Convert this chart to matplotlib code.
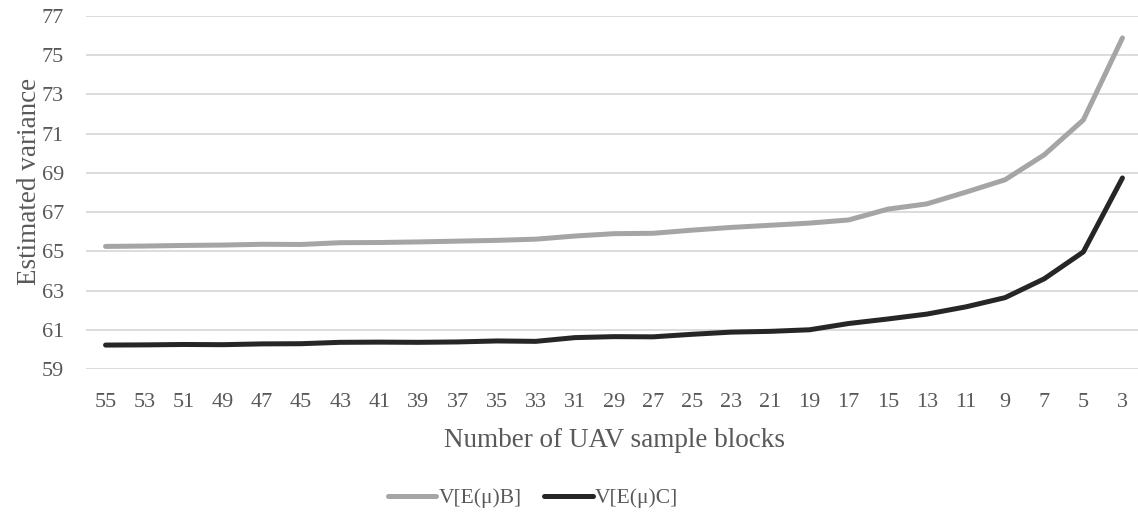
import numpy as np
import matplotlib
matplotlib.use('Agg')
import matplotlib.pyplot as plt

# nombre de blocs échantillonnés (axe x)
blocks = [55, 53, 51, 49, 47, 45, 43, 41, 39, 37, 35, 33, 31, 29, 27,
          25, 23, 21, 19, 17, 15, 13, 11, 9, 7, 5, 3]

# variances estimées
var_b = [65.25, 65.27, 65.30, 65.32, 65.36, 65.35, 65.44, 65.45, 65.48, 65.52,
         65.56, 65.62, 65.78, 65.90, 65.92, 66.08, 66.22, 66.33, 66.44, 66.60,
         67.15, 67.42, 68.02, 68.65, 69.92, 71.70, 75.88]
var_c = [60.22, 60.23, 60.25, 60.24, 60.28, 60.29, 60.36, 60.37, 60.36, 60.38,
         60.43, 60.41, 60.60, 60.65, 60.64, 60.77, 60.88, 60.92, 61.00, 61.32,
         61.55, 61.80, 62.17, 62.64, 63.60, 64.97, 68.74]

y_ticks = np.arange(59, 78, 2)

plt.rcParams['font.family'] = ['Liberation Serif', 'DejaVu Serif']
txt = '#595959'

fig = plt.figure(figsize=(11.38, 5.19), dpi=100)
ax = fig.add_axes([86 / 1138, 1 - 369 / 519, (1142 - 86) / 1138, (369 - 16) / 519])

x = np.arange(len(blocks))
ax.plot(x, var_b, color='#A5A5A5', lw=3.6, solid_capstyle='round', label='V[E(μ)B]')
ax.plot(x, var_c, color='#262626', lw=3.6, solid_capstyle='round', label='V[E(μ)C]')

ax.set_xlim(-0.5, len(blocks) - 0.5)
ax.set_ylim(59, 77)
ax.set_yticks(y_ticks)
ax.set_xticks(x)
ax.set_xticklabels([str(b) for b in blocks])
ax.grid(axis='y', color='#D9D9D9', lw=1.3)
ax.set_axisbelow(True)
for s in ax.spines.values():
    s.set_visible(False)
ax.tick_params(length=0, labelsize=16, colors=txt)
ax.tick_params(axis='x', pad=17)
ax.tick_params(axis='y', pad=16)

ax.set_xlabel('Number of UAV sample blocks', fontsize=19.5, color=txt, labelpad=12)
ax.set_ylabel('Estimated variance', fontsize=19.5, color=txt)
ax.yaxis.set_label_coords(-0.042, 0.53)

fig.legend(loc='center', bbox_to_anchor=(533 / 1138, 1 - 498 / 519), ncol=2, frameon=False,
           fontsize=15.5, labelcolor=txt, handlelength=2.25, handletextpad=0.1,
           columnspacing=1.05)

fig.savefig('out.png', dpi=100)
